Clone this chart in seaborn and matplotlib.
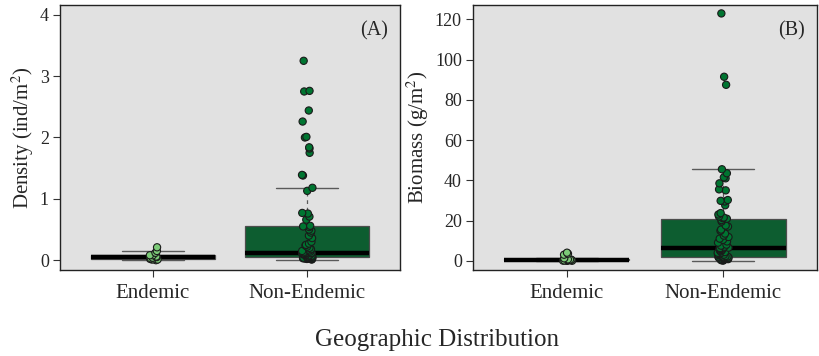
import numpy as np
import pandas as pd
import matplotlib
matplotlib.use("Agg")
import matplotlib.pyplot as plt
import seaborn as sns

# Sample values per distribution group
groups = ["Endemic", "Non-Endemic"]

density_endemic = [0.00, 0.01, 0.01, 0.02, 0.03, 0.04, 0.05, 0.06, 0.08, 0.08,
                   0.12, 0.15, 0.21]
density_non_endemic = [
    0.01, 0.02, 0.02, 0.02, 0.02, 0.03, 0.03, 0.03, 0.03, 0.03,
    0.04, 0.04, 0.04, 0.04, 0.04, 0.05, 0.05, 0.05, 0.05,
    0.05, 0.05, 0.06, 0.06, 0.06, 0.07, 0.07, 0.08, 0.08, 0.08,
    0.09, 0.09, 0.10, 0.10, 0.11, 0.11, 0.11, 0.12, 0.12,
    0.12, 0.13, 0.14, 0.15, 0.16, 0.18, 0.20, 0.22, 0.24, 0.25,
    0.27, 0.30, 0.36, 0.40, 0.45, 0.48, 0.50, 0.54, 0.55,
    0.56, 0.66, 0.71, 0.76, 0.77, 1.13, 1.18, 1.38, 1.39, 1.75,
    1.82, 1.84, 2.00, 2.01, 2.26, 2.44, 2.75, 2.76, 3.25,
]

biomass_endemic = [0.0, 0.0, 0.05, 0.1, 0.15, 0.2, 0.3, 0.4, 0.5, 0.6,
                   0.7, 1.2, 3.0, 3.5, 4.0]
biomass_non_endemic = [
    0.1, 0.2, 0.3, 0.4, 0.5, 0.6, 0.7, 0.8, 0.8, 0.9,
    1.0, 1.1, 1.2, 1.3, 1.4, 1.5, 1.6, 1.7, 1.8,
    1.8, 2.0, 2.1, 2.3, 2.5, 2.8, 3.0, 3.3, 3.6, 3.8,
    4.0, 4.3, 4.6, 5.0, 5.3, 5.5, 5.8, 6.0, 6.3,
    6.3, 6.5, 7.0, 7.5, 8.0, 9.0, 9.6, 10.4, 11.0, 11.8,
    12.5, 13.5, 14.9, 15.5, 17.0, 17.5, 19.5, 20.2, 20.9,
    21.2, 21.5, 22.0, 23.0, 23.7, 27.6, 29.5, 29.8, 30.2, 35.0,
    35.5, 38.5, 41.0, 41.5, 43.5, 45.5, 87.5, 91.5, 123.0,
]

density_ticks = [0, 1, 2, 3, 4]
biomass_ticks = [0, 20, 40, 60, 80, 100, 120]

box_colors = {"Endemic": "#7ccb78", "Non-Endemic": "#006a2e"}
point_colors = {"Endemic": "#7ccb78", "Non-Endemic": "#007531"}
panel_bg = "#e1e1e1"


def long_frame(endemic, non_endemic):
    return pd.DataFrame({
        "group": [groups[0]] * len(endemic) + [groups[1]] * len(non_endemic),
        "value": list(endemic) + list(non_endemic),
    })


density_df = long_frame(density_endemic, density_non_endemic)
biomass_df = long_frame(biomass_endemic, biomass_non_endemic)

sns.set_style("white")
plt.rcParams["font.family"] = ["Liberation Serif", "DejaVu Serif"]
plt.rcParams["mathtext.fontset"] = "stix"

fig = plt.figure(figsize=(8.19, 3.56), dpi=100)
ax_a = fig.add_axes([0.0733, 0.2416, 0.4151, 0.7444])
ax_b = fig.add_axes([0.5775, 0.2416, 0.4200, 0.7444])


def draw_panel(ax, df, ticks, ylim, ylabel, tag):
    ax.set_facecolor(panel_bg)
    sns.boxplot(
        data=df, x="group", y="value", hue="group", order=groups,
        hue_order=groups, palette=box_colors, width=0.8, whis=1.5,
        showfliers=False, linecolor="#4d4d4d", linewidth=0.9,
        medianprops=dict(color="black", linewidth=3.2),
        whiskerprops=dict(color="#5a5a5a", linewidth=0.9, linestyle=(0, (3, 3))),
        capprops=dict(color="#5a5a5a", linewidth=1.0),
        capwidths=0.4, legend=False, ax=ax,
    )
    sns.stripplot(
        data=df, x="group", y="value", hue="group", order=groups,
        hue_order=groups, palette=point_colors, jitter=0.035, size=5.2,
        edgecolor="#1a1a1a", linewidth=0.8, legend=False, ax=ax,
    )
    ax.set_xlim(-0.6, 1.6)
    ax.set_ylim(*ylim)
    ax.set_yticks(ticks)
    ax.set_yticklabels([str(t) for t in ticks])
    ax.set_xlabel("")
    ax.set_ylabel(ylabel, fontsize=15, labelpad=3)
    ax.tick_params(axis="both", which="major", direction="out", length=5,
                   width=0.8, color="#333333", left=True, bottom=True)
    ax.tick_params(axis="y", labelsize=13, pad=3)
    ax.tick_params(axis="x", labelsize=15, pad=5)
    for spine in ax.spines.values():
        spine.set_visible(True)
        spine.set_color("#222222")
        spine.set_linewidth(1.0)
    ax.text(0.965, 0.94, tag, transform=ax.transAxes, ha="right", va="top",
            fontsize=14.5)


draw_panel(ax_a, density_df, density_ticks, (-0.16, 4.16),
           r"Density (ind/m$^2$)", "(A)")
draw_panel(ax_b, biomass_df, biomass_ticks, (-4.6, 127.2),
           r"Biomass (g/m$^2$)", "(B)")

fig.text(0.534, 0.015, "Geographic Distribution", ha="center", va="bottom",
         fontsize=18)

fig.savefig("out.png", dpi=100, facecolor="white")
